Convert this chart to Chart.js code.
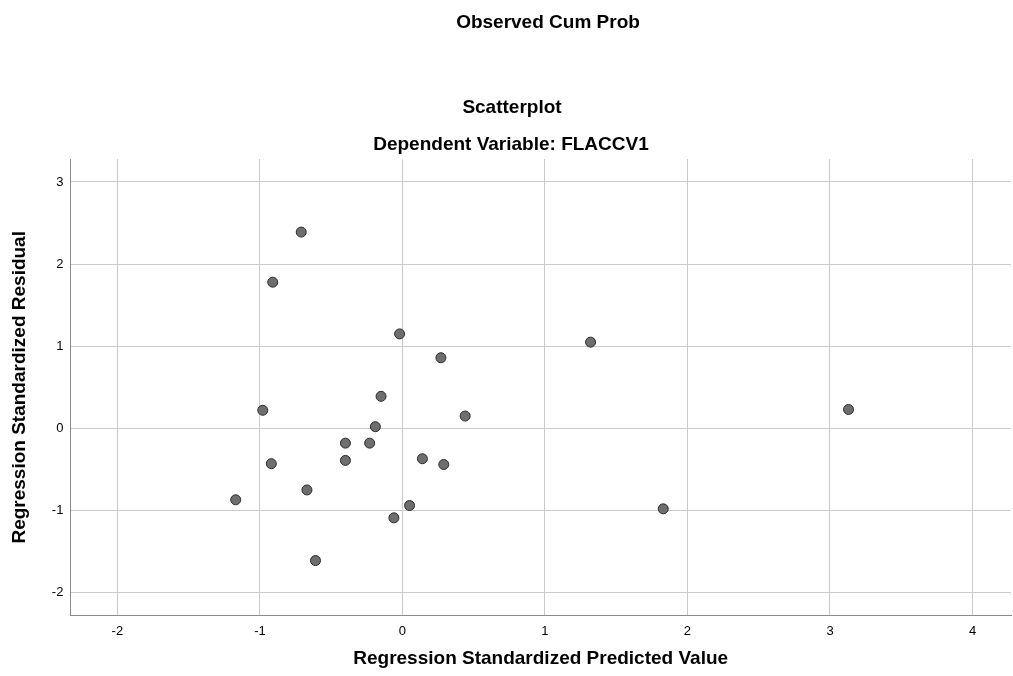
<!DOCTYPE html>
<html>
<head>
<meta charset="utf-8">
<script src="https://cdn.jsdelivr.net/npm/chart.js@4.4.1/dist/chart.umd.min.js"></script>
<style>
  html, body { margin: 0; padding: 0; background: #fff; overflow: hidden; }
  #wrap { width: 1017px; height: 676px; position: relative; }
</style>
</head>
<body>
<div id="wrap"><canvas id="scatterChart"></canvas></div>
<script>
// standardized predicted value (x) and standardized residual (y)
const predicted = [-0.71, -0.91, -0.02, 0.27, 1.32, -0.15, -0.98, 0.44, 3.13, -0.19, -0.40,
  -0.23, -0.40, -0.92, 0.14, 0.29, -0.67, -1.17, 0.05, -0.06, 1.83, -0.61];
const residual = [2.39, 1.78, 1.15, 0.86, 1.05, 0.39, 0.22, 0.15, 0.23, 0.02, -0.18,
  -0.18, -0.39, -0.43, -0.37, -0.44, -0.75, -0.87, -0.94, -1.09, -0.98, -1.61];
const xTicks = [-2, -1, 0, 1, 2, 3, 4];
const yTicks = [-2, -1, 0, 1, 2, 3];

const chartTitle = 'Observed Cum Prob';
const plotTitle = 'Scatterplot';
const plotSubtitle = 'Dependent Variable: FLACCV1';

const points = predicted.map((x, i) => ({ x: x, y: residual[i] }));

const fontFam = '"Liberation Sans", Arial, sans-serif';

// titles above the plot
const headerText = {
  id: 'headerText',
  afterDraw(chart) {
    const c = chart.ctx;
    c.save();
    c.fillStyle = '#000';
    c.textAlign = 'center';
    c.textBaseline = 'middle';
    c.font = 'bold 19px ' + fontFam;
    c.fillText(chartTitle, 548, 23);
    c.fillText(plotTitle, 512, 108);
    c.fillText(plotSubtitle, 511, 145);
    c.restore();
  }
};

const ctx = document.getElementById('scatterChart').getContext('2d');
new Chart(ctx, {
  type: 'scatter',
  data: {
    datasets: [{
      label: 'Residuals',
      data: points,
      backgroundColor: '#6e6e6e',
      borderColor: '#2b2b2b',
      borderWidth: 1,
      pointRadius: 5,
      pointHoverRadius: 5
    }]
  },
  options: {
    responsive: true,
    maintainAspectRatio: false,
    animation: false,
    layout: { padding: { top: 159, left: 8, right: 0, bottom: 6 } },
    plugins: {
      legend: { display: false },
      tooltip: { enabled: false }
    },
    scales: {
      x: {
        type: 'linear',
        min: -2.33,
        max: 4.27,
        afterBuildTicks: (axis) => { axis.ticks = xTicks.map(v => ({ value: v })); },
        ticks: { color: '#000', font: { family: fontFam, size: 13 }, padding: 8 },
        grid: { color: '#cacaca', drawTicks: false },
        border: { color: '#8c8c8c', width: 1 },
        title: {
          display: true,
          text: 'Regression Standardized Predicted Value',
          color: '#000',
          font: { family: fontFam, size: 19, weight: 'bold' },
          padding: { top: 0, bottom: 0 }
        }
      },
      y: {
        type: 'linear',
        min: -2.28,
        max: 3.28,
        afterBuildTicks: (axis) => { axis.ticks = yTicks.map(v => ({ value: v })); },
        ticks: { color: '#000', font: { family: fontFam, size: 13 }, padding: 7 },
        grid: { color: '#cacaca', drawTicks: false },
        border: { color: '#8c8c8c', width: 1 },
        title: {
          display: true,
          text: 'Regression Standardized Residual',
          color: '#000',
          font: { family: fontFam, size: 19, weight: 'bold' },
          padding: { top: 0, bottom: 14 }
        }
      }
    }
  },
  plugins: [headerText]
});
</script>
</body>
</html>
